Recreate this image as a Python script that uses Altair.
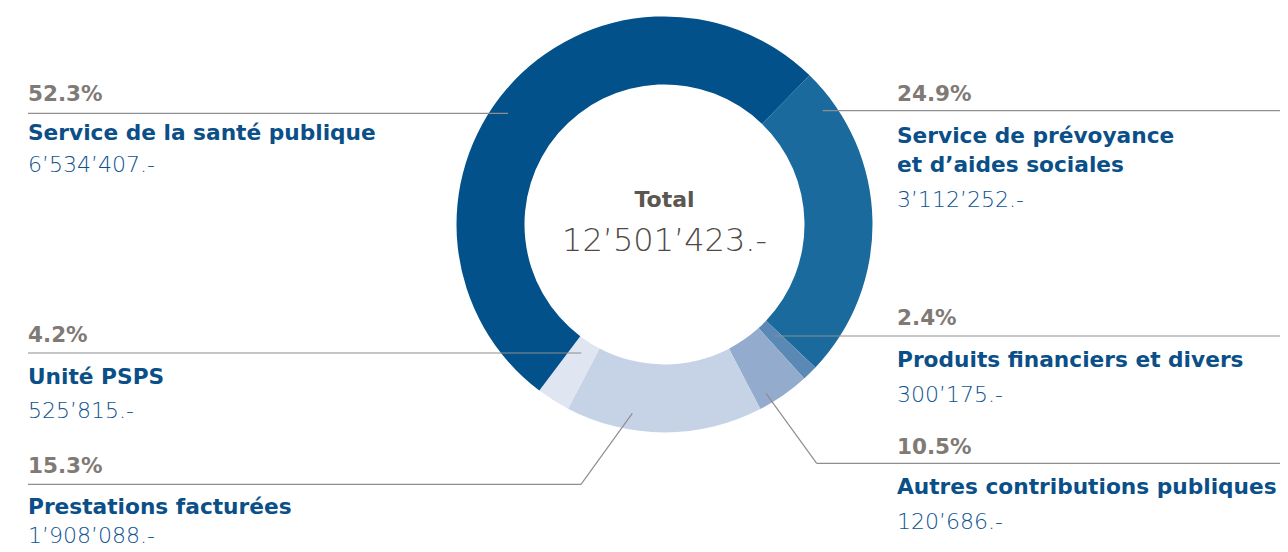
import altair as alt
import pandas as pd
import math

# ---- data ----
slice_names = ["Service de prévoyance et d'aides sociales", "Autres contributions publiques",
               "Produits financiers et divers", "Prestations facturées", "Unité PSPS",
               "Service de la santé publique"]
# angular share of each drawn slice, in percent (as drawn)
slice_share = [24.8, 1.2, 4.1, 15.3, 2.6, 52.0]
slice_colors = ["#1b6a9d", "#5a89b5", "#93abcd", "#c6d3e7", "#dfe6f2", "#02518a"]

pct_labels = ["52.3%", "24.9%", "4.2%", "2.4%", "15.3%", "10.5%"]
name_labels = ["Service de la santé publique", "Service de prévoyance", "Unité PSPS",
               "Produits financiers et divers", "Prestations facturées",
               "Autres contributions publiques"]
name_extra = ["", "et d’aides sociales", "", "", "", ""]
value_labels = ["6’534’407.-", "3’112’252.-", "525’815.-", "300’175.-", "1’908’088.-", "120’686.-"]
total_title = "Total"
total_value = "12’501’423.-"

# ---- layout (page pixel coordinates) ----
W, H = 1272, 536
CX, CY = 664.5, 224.4
R_OUT, R_IN = 208, 140
START_DEG = 44.2

label_x = [28, 897, 28, 897, 28, 897]
pct_y = [100.7, 100.7, 341.7, 325, 473.3, 454.3]
name_y = [139.5, 142.7, 384, 366.7, 514, 494]
extra_y = [0, 171.7, 0, 0, 0, 0]
value_y = [171.5, 207.3, 418.3, 401.7, 542.5, 529.3]

segments = [
    (28, 113.3, 508, 113.3),
    (822.7, 110.7, 1288, 110.7),
    (774.3, 336, 1288, 336),
    (816.7, 463.3, 1288, 463.3),
    (766, 393.3, 816.7, 463.3),
    (28, 353, 581.3, 353),
    (28, 484.3, 581, 484.3),
    (581, 484.3, 632.3, 413.3),
]

xs = alt.Scale(domain=[8, 8 + W], range=[0, W], zero=False, nice=False)
ys = alt.Scale(domain=[8, 8 + H], reverse=True, zero=False, nice=False)

slices = pd.DataFrame({"name": slice_names, "share": slice_share,
                       "idx": list(range(len(slice_names)))})
start = math.radians(START_DEG)

arc = alt.Chart(slices).mark_arc(innerRadius=R_IN, outerRadius=R_OUT, strokeWidth=0).encode(
    theta=alt.Theta("share:Q", stack=True, scale=alt.Scale(range=[start, start + 2 * math.pi])),
    order=alt.Order("idx:Q"),
    color=alt.Color("name:N", scale=alt.Scale(domain=slice_names, range=slice_colors), legend=None),
    x=alt.XDatum(CX, type="quantitative", scale=xs, axis=None),
    y=alt.YDatum(CY, type="quantitative", scale=ys, axis=None),
)

seg_df = pd.DataFrame(segments, columns=["x", "y", "x2", "y2"])
lines = alt.Chart(seg_df).mark_rule(color="#8e8e8e", strokeWidth=1.2).encode(
    x=alt.X("x:Q", scale=xs, axis=None), y=alt.Y("y:Q", scale=ys, axis=None),
    x2="x2:Q", y2="y2:Q")

FONT = "DejaVu Sans"

def text_layer(texts, xs_, ys_, size, weight, color):
    rows = [(t, x, y) for t, x, y in zip(texts, xs_, ys_) if t]
    df = pd.DataFrame(rows, columns=["t", "x", "y"])
    return alt.Chart(df).mark_text(align="left", baseline="alphabetic", font=FONT,
                                   fontSize=size, fontWeight=weight, color=color).encode(
        x=alt.X("x:Q", scale=xs, axis=None), y=alt.Y("y:Q", scale=ys, axis=None), text="t:N")

pct_layer = text_layer(pct_labels, label_x, pct_y, 21.5, "bold", "#7f7a75")
name_layer = text_layer(name_labels, label_x, name_y, 21.7, "bold", "#0b4f88")
extra_layer = text_layer(name_extra, label_x, extra_y, 21.7, "bold", "#0b4f88")
value_layer = text_layer(value_labels, label_x, value_y, 22, 200, "#0d5390")

center_df = pd.DataFrame({"t": [total_title, total_value], "y": [206.7, 251]})
center_title = alt.Chart(center_df.iloc[[0]]).mark_text(
    align="center", baseline="alphabetic", font=FONT, fontSize=22, fontWeight="bold", color="#5b5650"
).encode(x=alt.XDatum(CX, type="quantitative", scale=xs), y=alt.Y("y:Q", scale=ys), text="t:N")
center_value = alt.Chart(center_df.iloc[[1]]).mark_text(
    align="center", baseline="alphabetic", font=FONT, fontSize=32, fontWeight=200, color="#4f4a45"
).encode(x=alt.XDatum(CX, type="quantitative", scale=xs), y=alt.Y("y:Q", scale=ys), text="t:N")

chart = alt.layer(arc, lines, pct_layer, name_layer, extra_layer, value_layer,
                  center_title, center_value).properties(
    width=W, height=H, padding=0, autosize=alt.AutoSizeParams(type="none"),
    background="white"
).configure_view(stroke=None)

chart.save("out.html", embed_options={"renderer": "svg", "actions": False})
